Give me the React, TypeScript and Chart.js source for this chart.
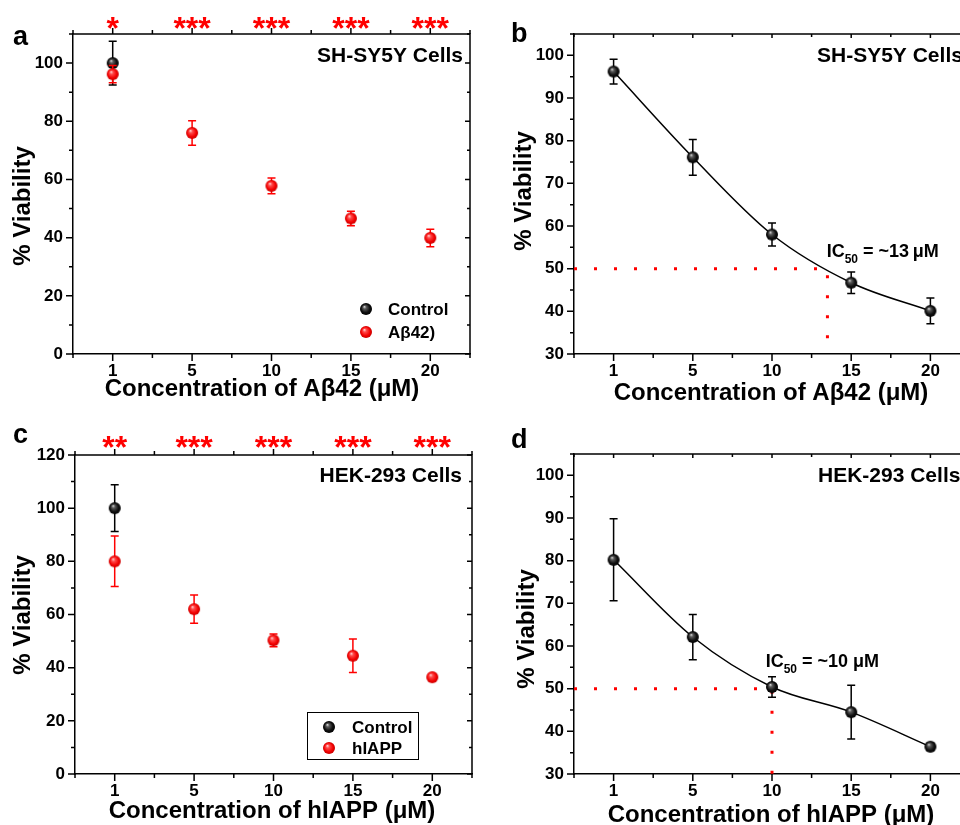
import React, { useEffect, useRef } from 'react';
import { Chart, registerables } from 'chart.js';

Chart.register(...registerables);

// ---------------- data ----------------
const concentrationLabels = ['1', '5', '10', '15', '20'];
const concentrationValues = [1, 5, 10, 15, 20];

// panel a – SH-SY5Y, control vs Aβ42
const aControlMean = [100];
const aControlErr = [7.5];
const aAbetaMean = [96.2, 76, 57.8, 46.6, 39.9];
const aAbetaErr = [3, 4.2, 2.7, 2.5, 3];
const aStars = ['*', '***', '***', '***', '***'];
const aYTicks = [0, 20, 40, 60, 80, 100];

// panel b – SH-SY5Y dose response
const bViability = [96.2, 76.1, 58.0, 46.7, 40.1];
const bErr = [2.9, 4.2, 2.7, 2.5, 3.0];
const bIC50Guide = 13.5; // µM, where the dotted guide drops
const bYTicks = [30, 40, 50, 60, 70, 80, 90, 100];

// panel c – HEK-293, control vs hIAPP
const cControlMean = [100];
const cControlErr = [8.8];
const cHiappMean = [80, 62, 50.3, 44.5, 36.4];
const cHiappErr = [9.5, 5.3, 2.4, 6.3, 0.9];
const cStars = ['**', '***', '***', '***', '***'];
const cYTicks = [0, 20, 40, 60, 80, 100, 120];

// panel d – HEK-293 dose response
const dViability = [80.2, 62.1, 50.4, 44.5, 36.4];
const dErr = [9.6, 5.3, 2.4, 6.3, 0.8];
const dIC50Guide = 10; // µM
const dYTicks = [30, 40, 50, 60, 70, 80, 90, 100];

const halfLevel = 50;

// texts
const yTitleText = '% Viability';
const xTitleAbeta = 'Concentration of Aβ42 (μM)';
const xTitleHiapp = 'Concentration of hIAPP (μM)';
const shsyText = 'SH-SY5Y Cells';
const hekText = 'HEK-293 Cells';
const ic50bText = ' = ~13\u2009μM';
const ic50dText = ' = ~10 μM';

// ---------------- helpers ----------------
const FAMILY = '"Liberation Sans", Arial, Helvetica, sans-serif';
const font = (s: number) => `bold ${s}px ${FAMILY}`;

function concToIndex(c: number) {
  for (let i = 0; i < concentrationValues.length - 1; i++) {
    const a = concentrationValues[i];
    const b = concentrationValues[i + 1];
    if (c >= a && c <= b) return i + (c - a) / (b - a);
  }
  return 0;
}

function midMinor(majors: number[], min: number, max: number) {
  const out: number[] = [];
  const step = majors[1] - majors[0];
  for (let i = 0; i < majors.length; i++) {
    const m = majors[i] + step / 2;
    if (m <= max + 1e-9) out.push(m);
  }
  if (majors[0] - step / 2 >= min - 1e-9) out.push(majors[0] - step / 2);
  return out;
}

function makeSphere(kind: 'black' | 'red') {
  const r = 6;
  const s = 14;
  const c = document.createElement('canvas');
  c.width = s;
  c.height = s;
  const g = c.getContext('2d')!;
  const cx = s / 2;
  const cy = s / 2;
  const grad = g.createRadialGradient(cx - r * 0.3, cy - r * 0.4, 0, cx, cy, r);
  if (kind === 'black') {
    grad.addColorStop(0, '#e8e8e8');
    grad.addColorStop(0.28, '#5a5a5a');
    grad.addColorStop(0.7, '#111');
    grad.addColorStop(1, '#000');
  } else {
    grad.addColorStop(0, '#ffe4e4');
    grad.addColorStop(0.3, '#ff4a4a');
    grad.addColorStop(0.75, '#f20000');
    grad.addColorStop(1, '#c80000');
  }
  g.fillStyle = grad;
  g.beginPath();
  g.arc(cx, cy, r, 0, Math.PI * 2);
  g.fill();
  return c;
}

type Series = {
  label: string;
  values: number[];
  errors: number[];
  color: string;
  sphere: 'black' | 'red';
  line?: boolean;
  order: number;
};

type PanelCfg = {
  canvas: { left: number; top: number; w: number; h: number };
  area: { l: number; t: number; r: number; b: number };
  yMin: number;
  yMax: number;
  yMajor: number[];
  series: Series[];
  guide?: number; // µM
  letter: { text: string; x: number; y: number };
  title: { text: string; x: number; y: number; align: CanvasTextAlign };
  yTitle: { text: string; x: number; y: number };
  xTitle: { text: string; x: number; y: number };
  stars?: { labels: string[]; y: number };
  legend?: { mx: number; ys: number[]; tx: number; box?: { l: number; t: number; r: number; b: number } };
  ic50?: { x: number; y: number; text: string };
  topOut: boolean;
  rightTicks: boolean;
};

function buildChart(canvas: HTMLCanvasElement, cfg: PanelCfg) {
  const spheres = { black: makeSphere('black'), red: makeSphere('red') };
  const yMinor = midMinor(cfg.yMajor, cfg.yMin, cfg.yMax);
  const xMajor = concentrationLabels.map((_, i) => i);
  const xMinor = [-0.5, ...xMajor.map((i) => i + 0.5)];

  const datasets: any[] = cfg.series.map((s) => ({
    label: s.label,
    data: s.values.map((v, i) => ({ x: i, y: v })),
    showLine: !!s.line,
    borderColor: s.color,
    borderWidth: 1.5,
    cubicInterpolationMode: 'monotone',
    pointStyle: spheres[s.sphere],
    pointRadius: 6,
    order: s.order,
  }));
  if (cfg.guide !== undefined) {
    const gx = concToIndex(cfg.guide);
    datasets.push({
      label: 'guide',
      data: [
        { x: -0.5, y: halfLevel },
        { x: gx, y: halfLevel },
        { x: gx, y: cfg.yMin },
      ],
      showLine: true,
      borderColor: '#ff0000',
      borderWidth: 3,
      borderDash: [3, 17],
      pointRadius: 0,
      tension: 0,
      order: 5,
    });
  }

  const plugin = {
    id: 'panelDecor',
    beforeDatasetDraw(chart: any, args: any) {
      const s = cfg.series[args.index];
      if (!s) return;
      const { ctx } = chart;
      const ys = chart.scales.y;
      const meta = chart.getDatasetMeta(args.index);
      ctx.save();
      ctx.strokeStyle = s.color;
      ctx.lineWidth = 1.5;
      ctx.beginPath();
      meta.data.forEach((pt: any, j: number) => {
        const v = s.values[j];
        const e = s.errors[j];
        const x = pt.x;
        const yt = ys.getPixelForValue(v + e);
        const yb = ys.getPixelForValue(v - e);
        ctx.moveTo(x, yt);
        ctx.lineTo(x, yb);
        ctx.moveTo(x - 4, yt);
        ctx.lineTo(x + 4, yt);
        ctx.moveTo(x - 4, yb);
        ctx.lineTo(x + 4, yb);
      });
      ctx.stroke();
      ctx.restore();
    },
    afterDraw(chart: any) {
      const { ctx, chartArea: A } = chart;
      const xs = chart.scales.x;
      const ys = chart.scales.y;
      ctx.save();
      ctx.strokeStyle = '#000';
      ctx.lineWidth = 1.5;
      ctx.beginPath();
      ctx.moveTo(A.left - 1, A.top);
      ctx.lineTo(A.right, A.top);
      ctx.lineTo(A.right, A.bottom);
      ctx.stroke();

      ctx.beginPath();
      const seg = (x1: number, y1: number, x2: number, y2: number) => {
        ctx.moveTo(x1, y1);
        ctx.lineTo(x2, y2);
      };
      cfg.yMajor.forEach((v) => {
        const p = ys.getPixelForValue(v);
        seg(A.left - 7, p, A.left, p);
        if (cfg.rightTicks) seg(A.right - 5, p, A.right, p);
      });
      yMinor.forEach((v) => {
        const p = ys.getPixelForValue(v);
        seg(A.left - 4, p, A.left, p);
        if (cfg.rightTicks) seg(A.right - 3, p, A.right, p);
      });
      xMajor.forEach((v) => {
        const p = xs.getPixelForValue(v);
        seg(p, A.bottom, p, A.bottom + 7);
        if (cfg.topOut) seg(p, A.top - 6, p, A.top);
        else seg(p, A.top, p, A.top + 4);
      });
      xMinor.forEach((v) => {
        const p = xs.getPixelForValue(v);
        seg(p, A.bottom, p, A.bottom + 4);
        if (cfg.topOut) seg(p, A.top - 4, p, A.top);
        else seg(p, A.top, p, A.top + 3);
      });
      ctx.stroke();

      // stars
      if (cfg.stars) {
        ctx.fillStyle = '#ff0000';
        ctx.font = font(32);
        ctx.textAlign = 'center';
        ctx.textBaseline = 'alphabetic';
        cfg.stars.labels.forEach((t, i) => {
          ctx.fillText(t, xs.getPixelForValue(i), cfg.stars!.y);
        });
      }

      ctx.fillStyle = '#000';
      ctx.textBaseline = 'alphabetic';
      // panel letter
      ctx.font = font(27);
      ctx.textAlign = 'left';
      ctx.fillText(cfg.letter.text, cfg.letter.x, cfg.letter.y);
      // cell title
      ctx.font = font(21);
      ctx.textAlign = cfg.title.align;
      ctx.fillText(cfg.title.text, cfg.title.x, cfg.title.y);

      // axis titles
      ctx.font = font(24);
      ctx.textAlign = 'center';
      ctx.textBaseline = 'middle';
      ctx.fillText(cfg.xTitle.text, cfg.xTitle.x, cfg.xTitle.y);
      ctx.save();
      ctx.translate(cfg.yTitle.x, cfg.yTitle.y);
      ctx.rotate(-Math.PI / 2);
      ctx.fillText(cfg.yTitle.text, 0, 0);
      ctx.restore();

      // legend
      if (cfg.legend) {
        const L = cfg.legend;
        if (L.box) {
          ctx.lineWidth = 1;
          ctx.strokeRect(L.box.l + 0.5, L.box.t + 0.5, L.box.r - L.box.l, L.box.b - L.box.t);
        }
        ctx.font = font(17);
        ctx.textAlign = 'left';
        ctx.textBaseline = 'alphabetic';
        cfg.series.forEach((s, i) => {
          const img = spheres[s.sphere];
          ctx.drawImage(img, L.mx - img.width / 2, L.ys[i] - img.height / 2);
          ctx.fillText(s.label, L.tx, L.ys[i] + 6);
        });
      }

      // IC50 label
      if (cfg.ic50) {
        const px = xs.getPixelForValue(cfg.ic50.x);
        const py = ys.getPixelForValue(cfg.ic50.y);
        ctx.textAlign = 'left';
        ctx.textBaseline = 'alphabetic';
        ctx.font = font(18);
        ctx.fillText('IC', px, py);
        let w = ctx.measureText('IC').width;
        ctx.font = font(12);
        ctx.fillText('50', px + w, py + 6);
        w += ctx.measureText('50').width;
        ctx.font = font(18);
        ctx.fillText(cfg.ic50.text, px + w, py);
      }
      ctx.restore();
    },
  };

  const tickFont = { family: FAMILY, weight: 'bold' as const, size: 17 };

  return new Chart(canvas, {
    type: 'scatter',
    data: { datasets },
    options: {
      animation: false,
      responsive: false,
      devicePixelRatio: 1,
      events: [],
      layout: {
        padding: { left: 0, top: cfg.area.t, right: cfg.canvas.w - cfg.area.r, bottom: 0 },
      },
      plugins: { legend: { display: false }, tooltip: { enabled: false } },
      scales: {
        x: {
          type: 'linear',
          min: -0.5,
          max: concentrationLabels.length - 0.5,
          afterBuildTicks: (s: any) => {
            s.ticks = xMajor.map((v) => ({ value: v }));
          },
          afterFit: (s: any) => {
            s.height = cfg.canvas.h - cfg.area.b;
          },
          ticks: {
            callback: (v: any) => concentrationLabels[v] ?? '',
            font: tickFont,
            color: '#000',
            padding: 7,
            maxRotation: 0,
            autoSkip: false,
          },
          grid: { display: false, drawTicks: false },
          border: { display: true, color: '#000', width: 1.5 },
        },
        y: {
          type: 'linear',
          min: cfg.yMin,
          max: cfg.yMax,
          afterBuildTicks: (s: any) => {
            s.ticks = cfg.yMajor.map((v) => ({ value: v }));
          },
          afterFit: (s: any) => {
            s.width = cfg.area.l;
          },
          ticks: {
            font: tickFont,
            color: '#000',
            padding: 10,
          },
          grid: { display: false, drawTicks: false },
          border: { display: true, color: '#000', width: 1.5 },
        },
      },
    } as any,
    plugins: [plugin],
  });
}

const panels: PanelCfg[] = [
  {
    canvas: { left: 0, top: 0, w: 480, h: 410 },
    area: { l: 73, t: 34, r: 470, b: 354 },
    yMin: 0,
    yMax: 110,
    yMajor: aYTicks,
    series: [
      { label: 'Control', values: aControlMean, errors: aControlErr, color: '#000', sphere: 'black', order: 2 },
      { label: 'Aβ42)', values: aAbetaMean, errors: aAbetaErr, color: '#ff0000', sphere: 'red', order: 1 },
    ],
    letter: { text: 'a', x: 13, y: 45 },
    title: { text: shsyText, x: 463, y: 62, align: 'right' },
    yTitle: { text: yTitleText, x: 23, y: 206 },
    xTitle: { text: xTitleAbeta, x: 262, y: 389 },
    stars: { labels: aStars, y: 39 },
    legend: { mx: 366, ys: [309, 332], tx: 388 },
    topOut: true,
    rightTicks: true,
  },
  {
    canvas: { left: 480, top: 0, w: 520, h: 410 },
    area: { l: 94, t: 34, r: 490, b: 354 },
    yMin: 30,
    yMax: 105,
    yMajor: bYTicks,
    series: [
      { label: 'Aβ42', values: bViability, errors: bErr, color: '#000', sphere: 'black', line: true, order: 0 },
    ],
    guide: bIC50Guide,
    letter: { text: 'b', x: 31, y: 42 },
    title: { text: shsyText, x: 337, y: 62, align: 'left' },
    yTitle: { text: yTitleText, x: 44, y: 191 },
    xTitle: { text: xTitleAbeta, x: 291, y: 393 },
    ic50: { x: 2.69, y: 52.7, text: ic50bText },
    topOut: false,
    rightTicks: false,
  },
  {
    canvas: { left: 0, top: 410, w: 480, h: 415 },
    area: { l: 75, t: 45, r: 472, b: 364 },
    yMin: 0,
    yMax: 120,
    yMajor: cYTicks,
    series: [
      { label: 'Control', values: cControlMean, errors: cControlErr, color: '#000', sphere: 'black', order: 2 },
      { label: 'hIAPP', values: cHiappMean, errors: cHiappErr, color: '#ff0000', sphere: 'red', order: 1 },
    ],
    letter: { text: 'c', x: 13, y: 33 },
    title: { text: hekText, x: 462, y: 72, align: 'right' },
    yTitle: { text: yTitleText, x: 23, y: 205 },
    xTitle: { text: xTitleHiapp, x: 272, y: 401 },
    stars: { labels: cStars, y: 48 },
    legend: { mx: 329, ys: [317, 338], tx: 352, box: { l: 307, t: 302, r: 418, b: 349 } },
    topOut: true,
    rightTicks: true,
  },
  {
    canvas: { left: 480, top: 410, w: 520, h: 415 },
    area: { l: 94, t: 44, r: 490, b: 364 },
    yMin: 30,
    yMax: 105,
    yMajor: dYTicks,
    series: [
      { label: 'hIAPP', values: dViability, errors: dErr, color: '#000', sphere: 'black', line: true, order: 0 },
    ],
    guide: dIC50Guide,
    letter: { text: 'd', x: 31, y: 38 },
    title: { text: hekText, x: 338, y: 72, align: 'left' },
    yTitle: { text: yTitleText, x: 47, y: 219 },
    xTitle: { text: xTitleHiapp, x: 291, y: 405 },
    ic50: { x: 1.92, y: 55, text: ic50dText },
    topOut: false,
    rightTicks: false,
  },
];

function Panel({ cfg }: { cfg: PanelCfg }) {
  const ref = useRef<HTMLCanvasElement>(null);
  useEffect(() => {
    const chart = buildChart(ref.current!, cfg);
    return () => chart.destroy();
  }, [cfg]);
  return (
    <canvas
      ref={ref}
      width={cfg.canvas.w}
      height={cfg.canvas.h}
      style={{
        position: 'absolute',
        left: cfg.canvas.left,
        top: cfg.canvas.top,
        width: cfg.canvas.w,
        height: cfg.canvas.h,
      }}
    />
  );
}

export default function App() {
  return (
    <div
      style={{
        position: 'fixed',
        left: 0,
        top: 0,
        width: 960,
        height: 825,
        overflow: 'hidden',
        background: '#fff',
      }}
    >
      {panels.map((p, i) => (
        <Panel key={i} cfg={p} />
      ))}
    </div>
  );
}
